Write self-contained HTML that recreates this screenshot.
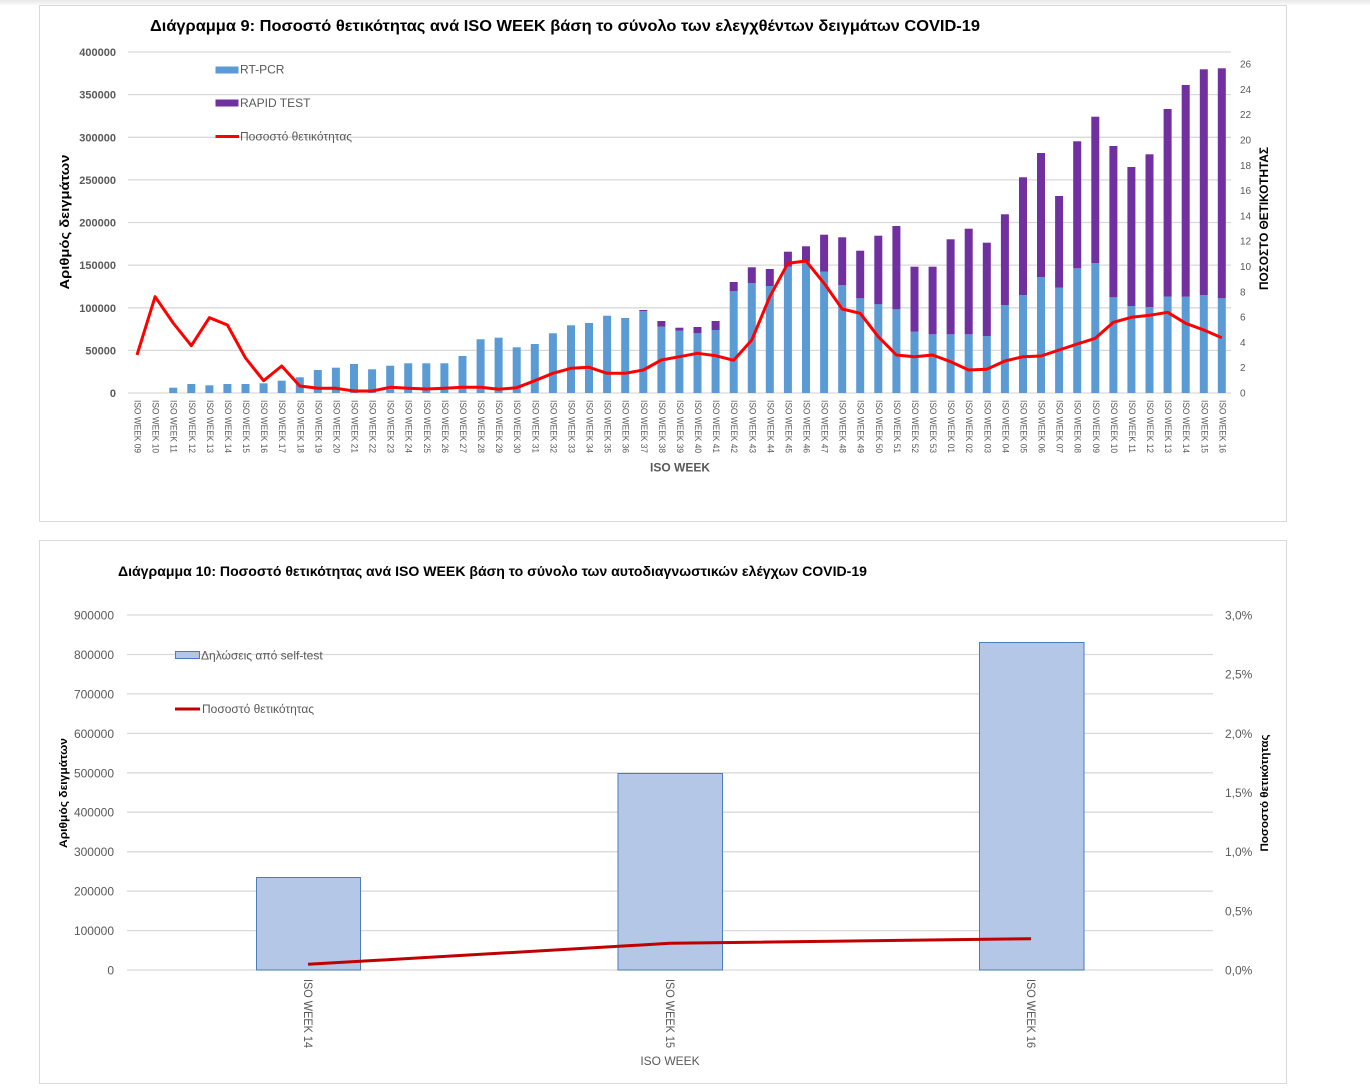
<!DOCTYPE html>
<html><head><meta charset="utf-8"><style>
html,body{margin:0;padding:0;background:#fff;}
svg{display:block;}
text{font-family:"Liberation Sans","DejaVu Sans",sans-serif;}
</style></head><body>
<svg width="1370" height="1092" viewBox="0 0 1370 1092" xmlns="http://www.w3.org/2000/svg">
<defs><linearGradient id="tg" x1="0" y1="0" x2="0" y2="1"><stop offset="0" stop-color="#e8e8e8"/><stop offset="1" stop-color="#fafafa"/></linearGradient></defs>
<rect x="0" y="0" width="1370" height="1092" fill="#fff"/>
<rect x="0" y="0" width="1370" height="5" fill="url(#tg)"/>
<!-- chart boxes -->
<rect x="39.5" y="5.5" width="1247" height="516" fill="#fff" stroke="#d9d9d9" stroke-width="1"/>
<rect x="39.5" y="540.5" width="1247" height="543" fill="#fff" stroke="#d9d9d9" stroke-width="1"/>

<!-- ============ TOP CHART ============ -->
<text x="150" y="31" font-size="16" font-weight="bold" fill="#000" textLength="830" lengthAdjust="spacingAndGlyphs">Διάγραμμα 9: Ποσοστό  θετικότητας ανά ISO WEEK βάση το σύνολο των ελεγχθέντων δειγμάτων COVID-19</text>
<g stroke="#d9d9d9" stroke-width="1.3">
<line x1="128" y1="52" x2="1231" y2="52"/>
<line x1="128" y1="94.6" x2="1231" y2="94.6"/>
<line x1="128" y1="137.3" x2="1231" y2="137.3"/>
<line x1="128" y1="179.9" x2="1231" y2="179.9"/>
<line x1="128" y1="222.5" x2="1231" y2="222.5"/>
<line x1="128" y1="265.1" x2="1231" y2="265.1"/>
<line x1="128" y1="307.8" x2="1231" y2="307.8"/>
<line x1="128" y1="350.4" x2="1231" y2="350.4"/>
<line x1="128" y1="393" x2="1231" y2="393"/>
</g>
<g font-size="11" font-weight="bold" fill="#595959" text-anchor="end">
<text x="116" y="56">400000</text>
<text x="116" y="98.6">350000</text>
<text x="116" y="141.3">300000</text>
<text x="116" y="183.9">250000</text>
<text x="116" y="226.5">200000</text>
<text x="116" y="269.1">150000</text>
<text x="116" y="311.8">100000</text>
<text x="116" y="354.4">50000</text>
<text x="116" y="397">0</text>
</g>
<g font-size="10" fill="#595959">
<text x="1240" y="396.5">0</text>
<text x="1240" y="371.2">2</text>
<text x="1240" y="345.9">4</text>
<text x="1240" y="320.6">6</text>
<text x="1240" y="295.3">8</text>
<text x="1240" y="270">10</text>
<text x="1240" y="244.7">12</text>
<text x="1240" y="219.4">14</text>
<text x="1240" y="194.1">16</text>
<text x="1240" y="168.8">18</text>
<text x="1240" y="143.5">20</text>
<text x="1240" y="118.2">22</text>
<text x="1240" y="92.9">24</text>
<text x="1240" y="67.6">26</text>
</g>
<text transform="translate(69,222) rotate(-90)" font-size="13" font-weight="bold" fill="#000" text-anchor="middle" textLength="135" lengthAdjust="spacingAndGlyphs">Αριθμός δειγμάτων</text>
<text transform="translate(1268,218.5) rotate(-90)" font-size="12" font-weight="bold" fill="#000" text-anchor="middle" textLength="143" lengthAdjust="spacingAndGlyphs">ΠΟΣΟΣΤΟ ΘΕΤΙΚΟΤΗΤΑΣ</text>
<!-- legend -->
<rect x="215.5" y="66.5" width="23" height="7" fill="#5b9bd5"/>
<text x="240" y="73.5" font-size="12" fill="#595959">RT-PCR</text>
<rect x="215.5" y="99.5" width="23" height="7" fill="#7030a0"/>
<text x="240" y="107" font-size="12" fill="#595959">RAPID TEST</text>
<line x1="215.5" y1="136.5" x2="239" y2="136.5" stroke="#ff0000" stroke-width="3"/>
<text x="240" y="140.5" font-size="12" fill="#595959">Ποσοστό θετικότητας</text>
<!-- RT-PCR bars -->
<g fill="#5b9bd5">
<rect x="169.2" y="387.7" width="8" height="5.3"/>
<rect x="187.3" y="384" width="8" height="9"/>
<rect x="205.4" y="385.3" width="8" height="7.7"/>
<rect x="223.4" y="384" width="8" height="9"/>
<rect x="241.5" y="384" width="8" height="9"/>
<rect x="259.6" y="383.3" width="8" height="9.7"/>
<rect x="277.7" y="380.7" width="8" height="12.3"/>
<rect x="295.8" y="377.3" width="8" height="15.7"/>
<rect x="313.8" y="370" width="8" height="23"/>
<rect x="331.9" y="367.7" width="8" height="25.3"/>
<rect x="350.0" y="364" width="8" height="29"/>
<rect x="368.1" y="369.3" width="8" height="23.7"/>
<rect x="386.2" y="365.7" width="8" height="27.3"/>
<rect x="404.2" y="363.3" width="8" height="29.7"/>
<rect x="422.3" y="363.3" width="8" height="29.7"/>
<rect x="440.4" y="363.3" width="8" height="29.7"/>
<rect x="458.5" y="356" width="8" height="37"/>
<rect x="476.6" y="339.3" width="8" height="53.7"/>
<rect x="494.6" y="337.7" width="8" height="55.3"/>
<rect x="512.7" y="347.3" width="8" height="45.7"/>
<rect x="530.8" y="344" width="8" height="49"/>
<rect x="548.9" y="333.3" width="8" height="59.7"/>
<rect x="567.0" y="325.3" width="8" height="67.7"/>
<rect x="585.0" y="323" width="8" height="70"/>
<rect x="603.1" y="315.7" width="8" height="77.3"/>
<rect x="621.2" y="318" width="8" height="75"/>
<rect x="639.3" y="311" width="8" height="82"/>
<rect x="657.4" y="326.7" width="8" height="66.3"/>
<rect x="675.4" y="330.7" width="8" height="62.3"/>
<rect x="693.5" y="333.3" width="8" height="59.7"/>
<rect x="711.6" y="330" width="8" height="63"/>
<rect x="729.7" y="291" width="8" height="102"/>
<rect x="747.8" y="283" width="8" height="110"/>
<rect x="765.8" y="286" width="8" height="107"/>
<rect x="783.9" y="266.7" width="8" height="126.3"/>
<rect x="802.0" y="261.7" width="8" height="131.3"/>
<rect x="820.1" y="271.7" width="8" height="121.3"/>
<rect x="838.2" y="285" width="8" height="108"/>
<rect x="856.2" y="298.3" width="8" height="94.7"/>
<rect x="874.3" y="304.3" width="8" height="88.7"/>
<rect x="892.4" y="309.3" width="8" height="83.7"/>
<rect x="910.5" y="331.7" width="8" height="61.3"/>
<rect x="928.6" y="334.3" width="8" height="58.7"/>
<rect x="946.6" y="334.3" width="8" height="58.7"/>
<rect x="964.7" y="334.3" width="8" height="58.7"/>
<rect x="982.8" y="336" width="8" height="57"/>
<rect x="1000.9" y="305" width="8" height="88"/>
<rect x="1019.0" y="295" width="8" height="98"/>
<rect x="1037.0" y="277" width="8" height="116"/>
<rect x="1055.1" y="287.7" width="8" height="105.3"/>
<rect x="1073.2" y="268.3" width="8" height="124.7"/>
<rect x="1091.3" y="263" width="8" height="130"/>
<rect x="1109.4" y="297.3" width="8" height="95.7"/>
<rect x="1127.4" y="306" width="8" height="87"/>
<rect x="1145.5" y="307" width="8" height="86"/>
<rect x="1163.6" y="296.7" width="8" height="96.3"/>
<rect x="1181.7" y="296.7" width="8" height="96.3"/>
<rect x="1199.8" y="295" width="8" height="98"/>
<rect x="1217.8" y="298.3" width="8" height="94.7"/>
</g>
<!-- RAPID bars -->
<g fill="#7030a0">
<rect x="639.3" y="310" width="8" height="1"/>
<rect x="657.4" y="321" width="8" height="5.7"/>
<rect x="675.4" y="327.7" width="8" height="3"/>
<rect x="693.5" y="327" width="8" height="6.3"/>
<rect x="711.6" y="321" width="8" height="9"/>
<rect x="729.7" y="282" width="8" height="9"/>
<rect x="747.8" y="267.3" width="8" height="15.7"/>
<rect x="765.8" y="269" width="8" height="17"/>
<rect x="783.9" y="251.7" width="8" height="15"/>
<rect x="802.0" y="246.3" width="8" height="15.4"/>
<rect x="820.1" y="234.7" width="8" height="37"/>
<rect x="838.2" y="237.3" width="8" height="47.7"/>
<rect x="856.2" y="250.7" width="8" height="47.6"/>
<rect x="874.3" y="235.7" width="8" height="68.6"/>
<rect x="892.4" y="226" width="8" height="83.3"/>
<rect x="910.5" y="266.7" width="8" height="65"/>
<rect x="928.6" y="266.7" width="8" height="67.6"/>
<rect x="946.6" y="239.3" width="8" height="95"/>
<rect x="964.7" y="228.7" width="8" height="105.6"/>
<rect x="982.8" y="242.7" width="8" height="93.3"/>
<rect x="1000.9" y="214.3" width="8" height="90.7"/>
<rect x="1019.0" y="177.3" width="8" height="117.7"/>
<rect x="1037.0" y="153" width="8" height="124"/>
<rect x="1055.1" y="196" width="8" height="91.7"/>
<rect x="1073.2" y="141.3" width="8" height="127"/>
<rect x="1091.3" y="116.7" width="8" height="146.3"/>
<rect x="1109.4" y="146" width="8" height="151.3"/>
<rect x="1127.4" y="167" width="8" height="139"/>
<rect x="1145.5" y="154.3" width="8" height="152.7"/>
<rect x="1163.6" y="109" width="8" height="187.7"/>
<rect x="1181.7" y="85" width="8" height="211.7"/>
<rect x="1199.8" y="69.3" width="8" height="225.7"/>
<rect x="1217.8" y="68.3" width="8" height="230"/>
</g>
<polyline fill="none" stroke="#ff0000" stroke-width="3" stroke-linejoin="round" points="137.0,355 155.1,296.7 173.2,323 191.3,345.7 209.4,317.7 227.4,325 245.5,358 263.6,380.7 281.7,366 299.8,386 317.8,388.3 335.9,388.3 354.0,391 372.1,391 390.2,387.3 408.2,388.3 426.3,389 444.4,388.3 462.5,387.3 480.6,387.3 498.6,389.3 516.7,387.7 534.8,380.7 552.9,373.3 571.0,368.3 589.0,367.3 607.1,373.3 625.2,373.3 643.3,370 661.4,360 679.4,356.7 697.5,353.3 715.6,355.7 733.7,360.3 751.8,340 769.8,296.7 787.9,263.3 806.0,261 824.1,283.3 842.2,309 860.2,313.3 878.3,336.7 896.4,355 914.5,356.7 932.6,355 950.6,361.7 968.7,370 986.8,369.3 1004.9,361 1023.0,356.7 1041.0,356 1059.1,350 1077.2,344 1095.3,338.3 1113.4,322.3 1131.4,317.3 1149.5,315.3 1167.6,312.3 1185.7,323.3 1203.8,330 1221.8,337.7"/>
<!-- x labels -->
<g font-size="9.5" fill="#595959" dominant-baseline="central">
<text transform="translate(137.0,400) rotate(90)" textLength="53" lengthAdjust="spacingAndGlyphs">ISO WEEK 09</text>
<text transform="translate(155.1,400) rotate(90)" textLength="53" lengthAdjust="spacingAndGlyphs">ISO WEEK 10</text>
<text transform="translate(173.2,400) rotate(90)" textLength="53" lengthAdjust="spacingAndGlyphs">ISO WEEK 11</text>
<text transform="translate(191.3,400) rotate(90)" textLength="53" lengthAdjust="spacingAndGlyphs">ISO WEEK 12</text>
<text transform="translate(209.4,400) rotate(90)" textLength="53" lengthAdjust="spacingAndGlyphs">ISO WEEK 13</text>
<text transform="translate(227.4,400) rotate(90)" textLength="53" lengthAdjust="spacingAndGlyphs">ISO WEEK 14</text>
<text transform="translate(245.5,400) rotate(90)" textLength="53" lengthAdjust="spacingAndGlyphs">ISO WEEK 15</text>
<text transform="translate(263.6,400) rotate(90)" textLength="53" lengthAdjust="spacingAndGlyphs">ISO WEEK 16</text>
<text transform="translate(281.7,400) rotate(90)" textLength="53" lengthAdjust="spacingAndGlyphs">ISO WEEK 17</text>
<text transform="translate(299.8,400) rotate(90)" textLength="53" lengthAdjust="spacingAndGlyphs">ISO WEEK 18</text>
<text transform="translate(317.8,400) rotate(90)" textLength="53" lengthAdjust="spacingAndGlyphs">ISO WEEK 19</text>
<text transform="translate(335.9,400) rotate(90)" textLength="53" lengthAdjust="spacingAndGlyphs">ISO WEEK 20</text>
<text transform="translate(354.0,400) rotate(90)" textLength="53" lengthAdjust="spacingAndGlyphs">ISO WEEK 21</text>
<text transform="translate(372.1,400) rotate(90)" textLength="53" lengthAdjust="spacingAndGlyphs">ISO WEEK 22</text>
<text transform="translate(390.2,400) rotate(90)" textLength="53" lengthAdjust="spacingAndGlyphs">ISO WEEK 23</text>
<text transform="translate(408.2,400) rotate(90)" textLength="53" lengthAdjust="spacingAndGlyphs">ISO WEEK 24</text>
<text transform="translate(426.3,400) rotate(90)" textLength="53" lengthAdjust="spacingAndGlyphs">ISO WEEK 25</text>
<text transform="translate(444.4,400) rotate(90)" textLength="53" lengthAdjust="spacingAndGlyphs">ISO WEEK 26</text>
<text transform="translate(462.5,400) rotate(90)" textLength="53" lengthAdjust="spacingAndGlyphs">ISO WEEK 27</text>
<text transform="translate(480.6,400) rotate(90)" textLength="53" lengthAdjust="spacingAndGlyphs">ISO WEEK 28</text>
<text transform="translate(498.6,400) rotate(90)" textLength="53" lengthAdjust="spacingAndGlyphs">ISO WEEK 29</text>
<text transform="translate(516.7,400) rotate(90)" textLength="53" lengthAdjust="spacingAndGlyphs">ISO WEEK 30</text>
<text transform="translate(534.8,400) rotate(90)" textLength="53" lengthAdjust="spacingAndGlyphs">ISO WEEK 31</text>
<text transform="translate(552.9,400) rotate(90)" textLength="53" lengthAdjust="spacingAndGlyphs">ISO WEEK 32</text>
<text transform="translate(571.0,400) rotate(90)" textLength="53" lengthAdjust="spacingAndGlyphs">ISO WEEK 33</text>
<text transform="translate(589.0,400) rotate(90)" textLength="53" lengthAdjust="spacingAndGlyphs">ISO WEEK 34</text>
<text transform="translate(607.1,400) rotate(90)" textLength="53" lengthAdjust="spacingAndGlyphs">ISO WEEK 35</text>
<text transform="translate(625.2,400) rotate(90)" textLength="53" lengthAdjust="spacingAndGlyphs">ISO WEEK 36</text>
<text transform="translate(643.3,400) rotate(90)" textLength="53" lengthAdjust="spacingAndGlyphs">ISO WEEK 37</text>
<text transform="translate(661.4,400) rotate(90)" textLength="53" lengthAdjust="spacingAndGlyphs">ISO WEEK 38</text>
<text transform="translate(679.4,400) rotate(90)" textLength="53" lengthAdjust="spacingAndGlyphs">ISO WEEK 39</text>
<text transform="translate(697.5,400) rotate(90)" textLength="53" lengthAdjust="spacingAndGlyphs">ISO WEEK 40</text>
<text transform="translate(715.6,400) rotate(90)" textLength="53" lengthAdjust="spacingAndGlyphs">ISO WEEK 41</text>
<text transform="translate(733.7,400) rotate(90)" textLength="53" lengthAdjust="spacingAndGlyphs">ISO WEEK 42</text>
<text transform="translate(751.8,400) rotate(90)" textLength="53" lengthAdjust="spacingAndGlyphs">ISO WEEK 43</text>
<text transform="translate(769.8,400) rotate(90)" textLength="53" lengthAdjust="spacingAndGlyphs">ISO WEEK 44</text>
<text transform="translate(787.9,400) rotate(90)" textLength="53" lengthAdjust="spacingAndGlyphs">ISO WEEK 45</text>
<text transform="translate(806.0,400) rotate(90)" textLength="53" lengthAdjust="spacingAndGlyphs">ISO WEEK 46</text>
<text transform="translate(824.1,400) rotate(90)" textLength="53" lengthAdjust="spacingAndGlyphs">ISO WEEK 47</text>
<text transform="translate(842.2,400) rotate(90)" textLength="53" lengthAdjust="spacingAndGlyphs">ISO WEEK 48</text>
<text transform="translate(860.2,400) rotate(90)" textLength="53" lengthAdjust="spacingAndGlyphs">ISO WEEK 49</text>
<text transform="translate(878.3,400) rotate(90)" textLength="53" lengthAdjust="spacingAndGlyphs">ISO WEEK 50</text>
<text transform="translate(896.4,400) rotate(90)" textLength="53" lengthAdjust="spacingAndGlyphs">ISO WEEK 51</text>
<text transform="translate(914.5,400) rotate(90)" textLength="53" lengthAdjust="spacingAndGlyphs">ISO WEEK 52</text>
<text transform="translate(932.6,400) rotate(90)" textLength="53" lengthAdjust="spacingAndGlyphs">ISO WEEK 53</text>
<text transform="translate(950.6,400) rotate(90)" textLength="53" lengthAdjust="spacingAndGlyphs">ISO WEEK 01</text>
<text transform="translate(968.7,400) rotate(90)" textLength="53" lengthAdjust="spacingAndGlyphs">ISO WEEK 02</text>
<text transform="translate(986.8,400) rotate(90)" textLength="53" lengthAdjust="spacingAndGlyphs">ISO WEEK 03</text>
<text transform="translate(1004.9,400) rotate(90)" textLength="53" lengthAdjust="spacingAndGlyphs">ISO WEEK 04</text>
<text transform="translate(1023.0,400) rotate(90)" textLength="53" lengthAdjust="spacingAndGlyphs">ISO WEEK 05</text>
<text transform="translate(1041.0,400) rotate(90)" textLength="53" lengthAdjust="spacingAndGlyphs">ISO WEEK 06</text>
<text transform="translate(1059.1,400) rotate(90)" textLength="53" lengthAdjust="spacingAndGlyphs">ISO WEEK 07</text>
<text transform="translate(1077.2,400) rotate(90)" textLength="53" lengthAdjust="spacingAndGlyphs">ISO WEEK 08</text>
<text transform="translate(1095.3,400) rotate(90)" textLength="53" lengthAdjust="spacingAndGlyphs">ISO WEEK 09</text>
<text transform="translate(1113.4,400) rotate(90)" textLength="53" lengthAdjust="spacingAndGlyphs">ISO WEEK 10</text>
<text transform="translate(1131.4,400) rotate(90)" textLength="53" lengthAdjust="spacingAndGlyphs">ISO WEEK 11</text>
<text transform="translate(1149.5,400) rotate(90)" textLength="53" lengthAdjust="spacingAndGlyphs">ISO WEEK 12</text>
<text transform="translate(1167.6,400) rotate(90)" textLength="53" lengthAdjust="spacingAndGlyphs">ISO WEEK 13</text>
<text transform="translate(1185.7,400) rotate(90)" textLength="53" lengthAdjust="spacingAndGlyphs">ISO WEEK 14</text>
<text transform="translate(1203.8,400) rotate(90)" textLength="53" lengthAdjust="spacingAndGlyphs">ISO WEEK 15</text>
<text transform="translate(1221.8,400) rotate(90)" textLength="53" lengthAdjust="spacingAndGlyphs">ISO WEEK 16</text>
</g>
<text x="680" y="471.5" font-size="12" font-weight="bold" fill="#595959" text-anchor="middle">ISO WEEK</text>

<!-- ============ BOTTOM CHART ============ -->
<text x="118" y="576" font-size="14" font-weight="bold" fill="#000" textLength="749" lengthAdjust="spacingAndGlyphs">Διάγραμμα 10: Ποσοστό θετικότητας ανά ISO WEEK  βάση το σύνολο των αυτοδιαγνωστικών ελέγχων COVID-19</text>
<g stroke="#d9d9d9" stroke-width="1.3">
<line x1="127" y1="615" x2="1213" y2="615"/>
<line x1="127" y1="654.5" x2="1213" y2="654.5"/>
<line x1="127" y1="693.9" x2="1213" y2="693.9"/>
<line x1="127" y1="733.4" x2="1213" y2="733.4"/>
<line x1="127" y1="772.8" x2="1213" y2="772.8"/>
<line x1="127" y1="812.2" x2="1213" y2="812.2"/>
<line x1="127" y1="851.7" x2="1213" y2="851.7"/>
<line x1="127" y1="891.1" x2="1213" y2="891.1"/>
<line x1="127" y1="930.6" x2="1213" y2="930.6"/>
<line x1="127" y1="970" x2="1213" y2="970"/>
</g>
<g font-size="12" fill="#595959" text-anchor="end">
<text x="114" y="619.5">900000</text>
<text x="114" y="659">800000</text>
<text x="114" y="698.4">700000</text>
<text x="114" y="737.9">600000</text>
<text x="114" y="777.3">500000</text>
<text x="114" y="816.7">400000</text>
<text x="114" y="856.2">300000</text>
<text x="114" y="895.6">200000</text>
<text x="114" y="935.1">100000</text>
<text x="114" y="974.5">0</text>
</g>
<g font-size="12" fill="#595959">
<text x="1225" y="619.5">3,0%</text>
<text x="1225" y="678.7">2,5%</text>
<text x="1225" y="737.8">2,0%</text>
<text x="1225" y="797">1,5%</text>
<text x="1225" y="856.2">1,0%</text>
<text x="1225" y="915.3">0,5%</text>
<text x="1225" y="974.5">0,0%</text>
</g>
<text transform="translate(67,793) rotate(-90)" font-size="11" font-weight="bold" fill="#000" text-anchor="middle" textLength="110" lengthAdjust="spacingAndGlyphs">Αριθμός δειγμάτων</text>
<text transform="translate(1268,793) rotate(-90)" font-size="11" font-weight="bold" fill="#000" text-anchor="middle" textLength="117" lengthAdjust="spacingAndGlyphs">Ποσοστό θετικότητας</text>
<!-- legend -->
<rect x="175.5" y="651.5" width="24" height="7" fill="#b4c7e7" stroke="#4a7ebb" stroke-width="1"/>
<text x="201" y="659.5" font-size="12" fill="#595959">Δηλώσεις από self-test</text>
<line x1="175" y1="709" x2="200" y2="709" stroke="#c00000" stroke-width="3"/>
<text x="202" y="713" font-size="12" fill="#595959">Ποσοστό θετικότητας</text>
<!-- bars -->
<g fill="#b4c7e7" stroke="#4a7ebb" stroke-width="1">
<rect x="256.5" y="877.5" width="104" height="92.5"/>
<rect x="618" y="773.5" width="104.5" height="196.5"/>
<rect x="979.5" y="642.5" width="104.5" height="327.5"/>
</g>
<polyline fill="none" stroke="#c00000" stroke-width="3" stroke-linejoin="round" points="308,964.3 670,943.3 1031,938.7"/>
<g font-size="12" fill="#595959" dominant-baseline="central">
<text transform="translate(308,979) rotate(90)" textLength="69" lengthAdjust="spacingAndGlyphs">ISO WEEK 14</text>
<text transform="translate(670,979) rotate(90)" textLength="69" lengthAdjust="spacingAndGlyphs">ISO WEEK 15</text>
<text transform="translate(1031,979) rotate(90)" textLength="69" lengthAdjust="spacingAndGlyphs">ISO WEEK 16</text>
</g>
<text x="670" y="1065" font-size="12" fill="#595959" text-anchor="middle">ISO WEEK</text>
</svg>
</body></html>
